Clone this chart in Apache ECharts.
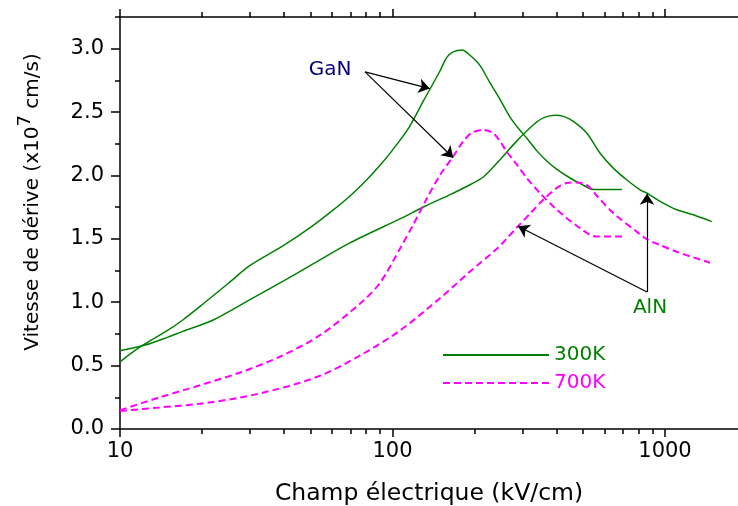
<!DOCTYPE html>
<html>
<head>
<meta charset="utf-8">
<script src="https://cdn.jsdelivr.net/npm/echarts@6/dist/echarts.min.js"></script>
<style>
  html, body { margin: 0; padding: 0; background: #fff; }
  #chart { width: 738px; height: 506px; }
</style>
</head>
<body>
<div id="chart"></div>
<script>
// champ électrique (kV/cm) / vitesse (x1e7 cm/s)
const ganField300 = [10, 12, 15, 17, 20, 25, 30, 40, 50, 60, 70, 80, 90, 100, 115, 130, 149, 158, 167, 180, 192, 209, 228, 248, 270, 290, 315, 340, 370, 400, 448, 495, 546, 695];
const ganVel300 = [0.53, 0.655, 0.78, 0.86, 0.98, 1.15, 1.29, 1.45, 1.59, 1.72, 1.84, 1.96, 2.08, 2.2, 2.38, 2.59, 2.82, 2.93, 2.975, 2.99, 2.95, 2.87, 2.73, 2.6, 2.46, 2.37, 2.28, 2.19, 2.11, 2.05, 1.98, 1.93, 1.89, 1.89];

const alnField300 = [10, 12.35, 15, 17, 22, 30, 40, 50, 70, 107, 131, 162, 187, 216, 248, 285, 329, 358, 395, 424, 461, 516, 577, 646, 723, 810, 868, 959, 1104, 1270, 1484];
const alnVel300 = [0.617, 0.662, 0.725, 0.77, 0.86, 1.02, 1.17, 1.29, 1.47, 1.66, 1.755, 1.847, 1.913, 1.99, 2.124, 2.269, 2.4, 2.454, 2.474, 2.466, 2.427, 2.335, 2.177, 2.058, 1.966, 1.887, 1.855, 1.795, 1.729, 1.69, 1.636];

const ganField700 = [10, 14, 19.65, 27.6, 38.6, 54.2, 76.1, 89.8, 107, 119, 133, 149, 167, 182, 195, 215, 234, 248, 262, 286, 311, 348, 389, 436, 488, 531, 561, 695];
const ganVel700 = [0.148, 0.25, 0.345, 0.446, 0.57, 0.74, 0.99, 1.15, 1.43, 1.61, 1.81, 2.0, 2.15, 2.27, 2.335, 2.36, 2.335, 2.27, 2.19, 2.085, 1.98, 1.86, 1.755, 1.663, 1.584, 1.531, 1.518, 1.518];

const alnField700 = [10, 14, 19.65, 27.6, 38.6, 54.2, 76.1, 107, 149, 192, 241, 262, 289, 320, 358, 400, 436, 474, 516, 562, 646, 787, 857, 959, 1104, 1270, 1463];
const alnVel700 = [0.142, 0.17, 0.2, 0.248, 0.32, 0.42, 0.58, 0.78, 1.03, 1.24, 1.42, 1.5, 1.6, 1.7, 1.81, 1.9, 1.94, 1.945, 1.926, 1.84, 1.703, 1.557, 1.497, 1.451, 1.398, 1.354, 1.312];

const xMajorTicks = [10, 100, 1000];
const xMinorTicks = [20, 30, 40, 50, 60, 70, 80, 90, 200, 300, 400, 500, 600, 700, 800, 900];
const yMajorTicks = [0, 0.5, 1, 1.5, 2, 2.5, 3];
const yMinorTicks = [0.25, 0.75, 1.25, 1.75, 2.25, 2.75, 3.25];

// annotations (data coords)
const ganLabelAt = [59, 2.836];
const ganArrowFrom = [79.3, 2.817];
const ganArrowTo = [[137, 2.685], [167, 2.14]];
const alnLabelAt = [881, 0.954];
const alnArrowFrom = [859, 1.08];
const alnArrowTo = [[859, 1.855], [289, 1.6]];

const X_MIN = 10, X_MAX = 1853, Y_MIN = 0, Y_MAX = 3.25;
const FONT = 'DejaVu Sans';
const GREEN = '#008000';
const MAGENTA = '#ff00ff';

const pairs = (xs, ys) => xs.map((x, i) => [x, ys[i]]);

const xAxisBase = (pos, major) => ({
  type: 'log',
  min: X_MIN,
  max: X_MAX,
  position: pos,
  axisLine: { show: major, onZero: false, lineStyle: { color: '#000', width: 1.5 } },
  axisTick: { length: major ? 8 : 5, customValues: major ? xMajorTicks : xMinorTicks, lineStyle: { color: '#000', width: 1.5 } },
  axisLabel: { show: false },
  splitLine: { show: false },
  minorTick: { show: false }
});

const yAxisBase = (major) => ({
  type: 'value',
  min: Y_MIN,
  max: Y_MAX,
  position: 'left',
  axisLine: { show: major, onZero: false, lineStyle: { color: '#000', width: 1.5 } },
  axisTick: { length: major ? 9 : 5, customValues: major ? yMajorTicks : yMinorTicks, lineStyle: { color: '#000', width: 1.5 } },
  axisLabel: { show: false },
  splitLine: { show: false }
});

const bottomMajor = xAxisBase('bottom', true);
bottomMajor.axisLabel = {
  show: true, customValues: xMajorTicks, fontSize: 21, fontFamily: FONT, color: '#000', margin: 12,
  formatter: (v) => String(Math.round(v))
};
bottomMajor.name = 'Champ électrique (kV/cm)';
bottomMajor.nameLocation = 'middle';
bottomMajor.nameGap = 53;
bottomMajor.nameTextStyle = { fontSize: 23.5, fontFamily: FONT, color: '#000' };

const leftMajor = yAxisBase(true);
leftMajor.axisLabel = {
  show: true, customValues: yMajorTicks, fontSize: 21, fontFamily: FONT, color: '#000', margin: 16,
  formatter: (v) => v.toFixed(1)
};
leftMajor.name = 'Vitesse de dérive (x10{sup|7} cm/s)';
leftMajor.nameLocation = 'middle';
leftMajor.nameGap = 70;
leftMajor.nameTextStyle = {
  fontSize: 20, fontFamily: FONT, color: '#000', lineHeight: 34,
  padding: [0, 0, 0, 42],
  rich: { sup: { fontSize: 18, fontFamily: FONT, color: '#000', verticalAlign: 'top', lineHeight: 34 } }
};

const arrowLines = (from, tos) => tos.map((to) => [{ coord: from }, { coord: to }]);

const chart = echarts.init(document.getElementById('chart'));
chart.setOption({
  animation: false,
  textStyle: { fontFamily: FONT },
  grid: { left: 120, right: 0, top: 17, bottom: 77, containLabel: false, outerBoundsMode: 'none' },
  xAxis: [bottomMajor, xAxisBase('bottom', false), xAxisBase('top', true), xAxisBase('top', false)],
  yAxis: [leftMajor, yAxisBase(false)],
  legend: {
    left: 442, top: 345, orient: 'vertical', padding: 0,
    itemWidth: 106, itemHeight: 20, itemGap: 8,
    selectedMode: false,
    itemStyle: { opacity: 0 },
    textStyle: { fontSize: 20, fontFamily: FONT, lineHeight: 20 },
    data: [
      { name: '300K', textStyle: { color: GREEN } },
      { name: '700K', textStyle: { color: MAGENTA } }
    ]
  },
  series: [
    {
      name: '300K', type: 'line', data: pairs(ganField300, ganVel300),
      symbol: 'none', smooth: 0.3, lineStyle: { color: GREEN, width: 1.5 }, itemStyle: { color: GREEN },
      markLine: {
        silent: true, animation: false, symbol: ['none', 'arrow'], symbolSize: 11,
        label: { show: false },
        lineStyle: { color: '#000', width: 1.2, type: 'solid' },
        data: arrowLines(ganArrowFrom, ganArrowTo).concat(arrowLines(alnArrowFrom, alnArrowTo))
      },
      markPoint: {
        silent: true, symbol: 'circle', symbolSize: 0,
        label: { show: true, position: 'inside', fontSize: 20, fontFamily: FONT },
        data: [
          { coord: ganLabelAt, label: { formatter: 'GaN', color: '#000080' } },
          { coord: alnLabelAt, label: { formatter: 'AlN', color: GREEN } }
        ]
      }
    },
    {
      name: '300K', type: 'line', data: pairs(alnField300, alnVel300),
      symbol: 'none', smooth: 0.3, lineStyle: { color: GREEN, width: 1.5 }, itemStyle: { color: GREEN }
    },
    {
      name: '700K', type: 'line', data: pairs(ganField700, ganVel700),
      symbol: 'none', smooth: 0.3, lineStyle: { color: MAGENTA, width: 2, type: [7, 4] }, itemStyle: { color: MAGENTA }
    },
    {
      name: '700K', type: 'line', data: pairs(alnField700, alnVel700),
      symbol: 'none', smooth: 0.3, lineStyle: { color: MAGENTA, width: 2, type: [7, 4] }, itemStyle: { color: MAGENTA }
    }
  ]
});
</script>
</body>
</html>
